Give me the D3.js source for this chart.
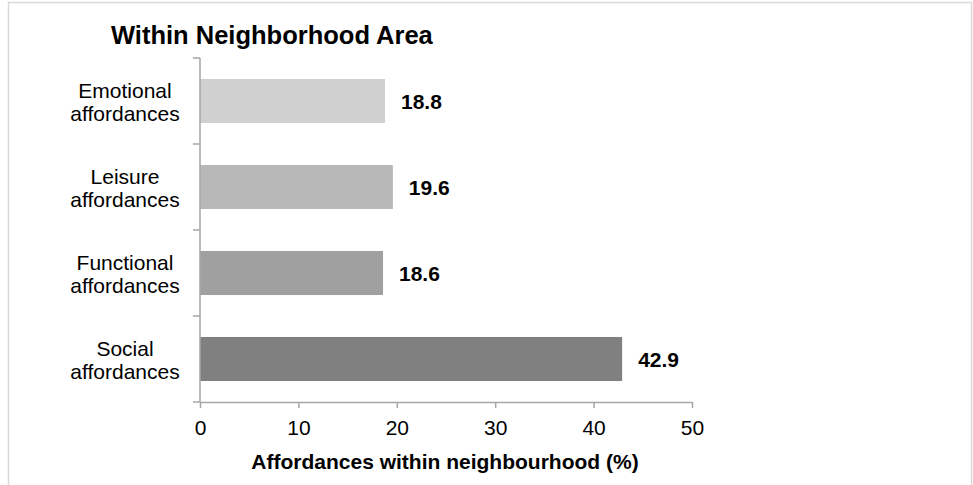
<!DOCTYPE html>
<html>
<head>
<meta charset="utf-8">
<script src="https://cdn.jsdelivr.net/npm/d3@7"></script>
<style>
  html, body { margin: 0; padding: 0; background: #fff; }
  svg { display: block; font-family: "Liberation Sans", Arial, sans-serif; }
</style>
</head>
<body>
<svg id="chart" width="973" height="485"></svg>
<script>
// Share of affordances reported within the neighbourhood area
const categories = [
  ["Emotional", "affordances"],
  ["Leisure", "affordances"],
  ["Functional", "affordances"],
  ["Social", "affordances"]
];
const values = [18.8, 19.6, 18.6, 42.9];
const barColors = ["#d0d0d0", "#b7b7b7", "#a0a0a0", "#808080"];
const xTicks = [0, 10, 20, 30, 40, 50];
const title = "Within Neighborhood Area";
const xTitle = "Affordances within neighbourhood (%)";

const svg = d3.select("#chart");
const axisColor = "#a6a6a6";

// Outer frame
svg.append("rect")
  .attr("x", 8.5).attr("y", 2.5)
  .attr("width", 963).attr("height", 520)
  .attr("fill", "none")
  .attr("stroke", "#d9d9d9")
  .attr("stroke-width", 1.5);

const plot = { left: 200, right: 692, top: 58, bottom: 402 };

const x = d3.scaleLinear().domain([0, 50]).range([plot.left, plot.right]);
const keys = categories.map(c => c.join(" "));
const y = d3.scaleBand()
  .domain(keys)
  .range([plot.top, plot.bottom])
  .paddingInner(0.488)
  .paddingOuter(0.244);

// Title
svg.append("text")
  .attr("x", 111).attr("y", 44)
  .attr("font-size", 25.5).attr("font-weight", "bold")
  .attr("fill", "#000")
  .text(title);

// Bars
svg.append("g").selectAll("rect")
  .data(values)
  .join("rect")
  .attr("x", x(0))
  .attr("y", (d, i) => y(keys[i]))
  .attr("width", d => x(d) - x(0))
  .attr("height", y.bandwidth())
  .attr("fill", (d, i) => barColors[i]);

// Value labels
svg.append("g").selectAll("text")
  .data(values)
  .join("text")
  .attr("x", d => x(d) + 16)
  .attr("y", (d, i) => y(keys[i]) + y.bandwidth() / 2 + 8)
  .attr("font-size", 21).attr("font-weight", "bold")
  .attr("fill", "#000")
  .text(d => d.toFixed(1));

// X axis
const xAxis = svg.append("g")
  .attr("transform", `translate(0,${plot.bottom})`)
  .call(d3.axisBottom(x).tickValues(xTicks).tickSize(6).tickSizeOuter(0).tickPadding(12));
xAxis.select(".domain").attr("stroke", axisColor).attr("stroke-width", 1.5);
xAxis.selectAll(".tick line").attr("stroke", axisColor).attr("stroke-width", 1.5);
xAxis.selectAll(".tick text")
  .attr("font-size", 21).attr("fill", "#000")
  .attr("font-family", "Liberation Sans, Arial, sans-serif");

// Y axis: line with ticks at the category boundaries
const yAxis = svg.append("g");
yAxis.append("line")
  .attr("x1", plot.left).attr("x2", plot.left)
  .attr("y1", plot.top).attr("y2", plot.bottom)
  .attr("stroke", axisColor).attr("stroke-width", 1.5);
const step = y.step();
const boundaries = d3.range(keys.length + 1).map(i => plot.top + i * step);
yAxis.selectAll("line.tick")
  .data(boundaries)
  .join("line")
  .attr("class", "tick")
  .attr("x1", plot.left - 7).attr("x2", plot.left)
  .attr("y1", d => d).attr("y2", d => d)
  .attr("stroke", axisColor).attr("stroke-width", 1.5);

// Category labels (two lines, centred)
const catLabels = yAxis.selectAll("text.cat")
  .data(categories)
  .join("text")
  .attr("class", "cat")
  .attr("text-anchor", "middle")
  .attr("font-size", 21).attr("fill", "#000")
  .attr("transform", (d, i) => `translate(125,${y(keys[i]) + y.bandwidth() / 2})`);
catLabels.append("tspan").attr("x", 0).attr("y", -3).text(d => d[0]);
catLabels.append("tspan").attr("x", 0).attr("y", 19.5).text(d => d[1]);

// X axis title
svg.append("text")
  .attr("x", 445)
  .attr("y", 469)
  .attr("text-anchor", "middle")
  .attr("font-size", 21).attr("font-weight", "bold")
  .attr("fill", "#000")
  .text(xTitle);
</script>
</body>
</html>
